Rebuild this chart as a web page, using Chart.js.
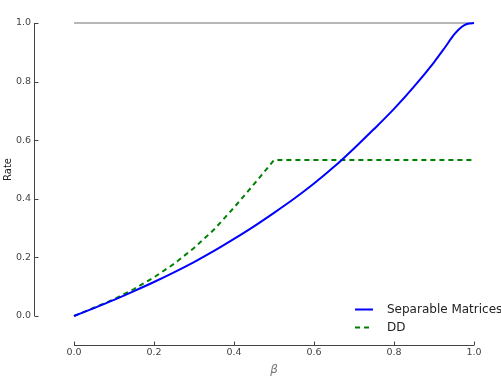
<!DOCTYPE html>
<html>
<head>
<meta charset="utf-8">
<script src="https://cdn.jsdelivr.net/npm/chart.js@4/dist/chart.umd.min.js"></script>
<style>
  html, body { margin: 0; padding: 0; background: #fff; }
  canvas { display: block; }
</style>
</head>
<body>
<canvas id="c" width="501" height="382"></canvas>
<script>
// ---- data ----
const sepBeta  = [0, 0.05, 0.10, 0.15, 0.20, 0.25, 0.30, 0.35, 0.40, 0.45, 0.50, 0.55, 0.60, 0.65, 0.70, 0.75, 0.80, 0.85, 0.90, 0.925, 0.95, 0.9625, 0.975, 0.9875, 1.0];
const sepRates = [0, 0.027, 0.055, 0.085, 0.116, 0.149, 0.184, 0.222, 0.263, 0.306, 0.352, 0.400, 0.452, 0.509, 0.572, 0.638, 0.707, 0.783, 0.866, 0.912, 0.960, 0.979, 0.992, 0.998, 1.0];
const ddBeta   = [0, 0.05, 0.10, 0.15, 0.20, 0.25, 0.30, 0.35, 0.40, 0.45, 0.50, 1.0];
const ddRates  = [0, 0.028, 0.057, 0.092, 0.132, 0.178, 0.232, 0.295, 0.370, 0.450, 0.532, 0.532];
const refBeta  = [0, 1];
const refRates = [1, 1];
const tickValues = [0, 0.2, 0.4, 0.6, 0.8, 1.0];
const seriesNames = ['Separable Matrices', 'DD'];

const toPts = (xs, ys) => xs.map((x, i) => ({ x: x, y: ys[i] }));

const FONT = 'DejaVu Sans';
const AXIS_COLOR = '#444';

const spinePlugin = {
  id: 'spines',
  afterDraw(chart) {
    const ctx = chart.ctx;
    const xs = chart.scales.x, ys = chart.scales.y;
    const sx = Math.round(xs.getPixelForValue(-0.1)) + 0.5;
    const sy = Math.round(ys.getPixelForValue(-0.1)) + 0.5;
    ctx.save();
    ctx.strokeStyle = AXIS_COLOR;
    ctx.lineWidth = 1;
    ctx.beginPath();
    ctx.moveTo(sx, ys.getPixelForValue(0));
    ctx.lineTo(sx, ys.getPixelForValue(1));
    ctx.moveTo(xs.getPixelForValue(0), sy);
    ctx.lineTo(xs.getPixelForValue(1), sy);
    tickValues.forEach(v => {
      const py = Math.round(ys.getPixelForValue(v)) + 0.5;
      ctx.moveTo(sx, py); ctx.lineTo(sx + 4, py);
      const px = Math.round(xs.getPixelForValue(v)) + 0.5;
      ctx.moveTo(px, sy); ctx.lineTo(px, sy - 4);
    });
    ctx.stroke();

    // legend
    const items = [chart.data.datasets[0], chart.data.datasets[1]];
    const lx0 = 355, lx1 = 373, tx = 387;
    const rows = [309.5, 327.5];
    ctx.font = '12px "' + FONT + '"';
    ctx.textBaseline = 'middle';
    ctx.textAlign = 'left';
    items.forEach((ds, i) => {
      ctx.save();
      ctx.strokeStyle = ds.borderColor;
      ctx.lineWidth = ds.borderWidth;
      ctx.setLineDash(ds.borderDash || []);
      ctx.beginPath();
      ctx.moveTo(lx0, rows[i]);
      ctx.lineTo(lx1, rows[i]);
      ctx.stroke();
      ctx.restore();
      ctx.fillStyle = '#222';
      ctx.fillText(seriesNames[i], tx, rows[i]);
    });
    ctx.restore();
  }
};

new Chart(document.getElementById('c'), {
  type: 'line',
  data: {
    datasets: [
      {
        label: seriesNames[0],
        data: toPts(sepBeta, sepRates),
        borderColor: '#0000ff',
        borderWidth: 2,
        pointRadius: 0,
        cubicInterpolationMode: 'monotone',
        clip: false
      },
      {
        label: seriesNames[1],
        data: toPts(ddBeta, ddRates),
        borderColor: '#008000',
        borderWidth: 2,
        borderDash: [5, 4],
        pointRadius: 0,
        tension: 0,
        clip: false
      },
      {
        label: 'ref',
        data: toPts(refBeta, refRates),
        borderColor: '#707070',
        borderWidth: 1,
        pointRadius: 0,
        clip: false
      }
    ]
  },
  options: {
    responsive: false,
    animation: false,
    devicePixelRatio: 1,
    layout: { padding: { left: 0, top: 23, right: 27, bottom: 0 } },
    plugins: { legend: { display: false }, tooltip: { enabled: false } },
    scales: {
      x: {
        type: 'linear',
        min: 0, max: 1,
        grid: { display: false, drawTicks: false },
        border: { display: false },
        afterFit: s => { s.height = 66; s.paddingLeft = 0; s.paddingRight = 0; },
        afterBuildTicks: s => { s.ticks = tickValues.map(v => ({ value: v })); },
        ticks: {
          padding: 31,
          color: AXIS_COLOR,
          font: { family: FONT, size: 9.5 },
          callback: v => Number(v).toFixed(1)
        },
        title: {
          display: true,
          text: 'β',
          color: '#777',
          font: { family: FONT, size: 12, style: 'italic' },
          padding: { top: 0, bottom: 5 }
        }
      },
      y: {
        type: 'linear',
        min: 0, max: 1,
        grid: { display: false, drawTicks: false },
        border: { display: false },
        afterFit: s => { s.width = 74; s.paddingTop = 0; s.paddingBottom = 0; },
        afterBuildTicks: s => { s.ticks = tickValues.map(v => ({ value: v })); },
        ticks: {
          padding: 43,
          color: AXIS_COLOR,
          font: { family: FONT, size: 9.5 },
          callback: v => Number(v).toFixed(1)
        },
        title: {
          display: true,
          text: 'Rate',
          color: '#222',
          font: { family: FONT, size: 10 },
          padding: { top: 2, bottom: 0 }
        }
      }
    }
  },
  plugins: [spinePlugin]
});
</script>
</body>
</html>
